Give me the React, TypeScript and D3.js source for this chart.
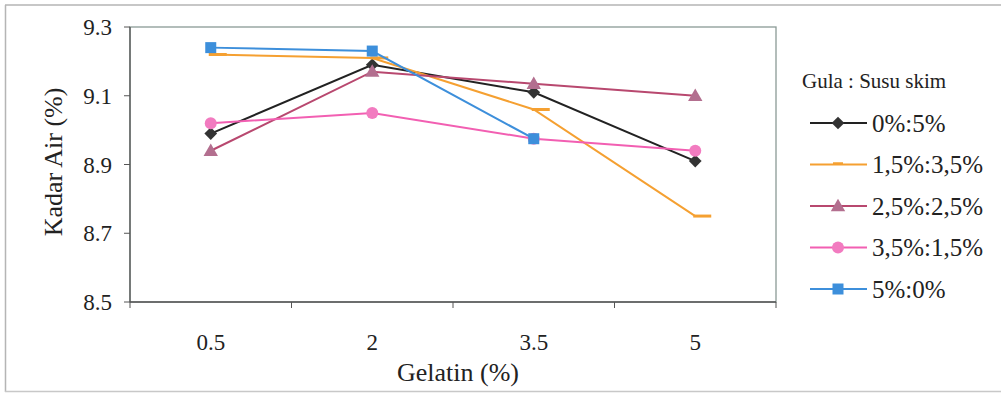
import React from "react";
import * as d3 from "d3";

// gelatin levels on the x axis
const gelatin = ["0.5", "2", "3.5", "5"];
const yTicks = [8.5, 8.7, 8.9, 9.1, 9.3];

// kadar air per ratio gula : susu skim
const s0_5 = [8.99, 9.19, 9.11, 8.91];
const s15_35 = [9.22, 9.21, 9.06, 8.75];
const s25_25 = [8.94, 9.17, 9.135, 9.1];
const s35_15 = [9.02, 9.05, 8.975, 8.94];
const s5_0 = [9.24, 9.23, 8.975];

const seriesNames = ["0%:5%", "1,5%:3,5%", "2,5%:2,5%", "3,5%:1,5%", "5%:0%"];
const seriesValues = [s0_5, s15_35, s25_25, s35_15, s5_0];
const lineColors = ["#222222", "#f5a031", "#b8486f", "#f25fb2", "#3d8fdb"];
const markColors = ["#333333", "#f5a031", "#b36f8f", "#f27bc0", "#3d8fdb"];
const markShapes = ["diamond", "dash", "triangle", "circle", "square"];

const font = "'Liberation Serif', 'Times New Roman', serif";

const Marker = ({ shape, x, y, color, legend }) => {
	if (shape === "diamond") {
		return <rect x={x - 4.5} y={y - 4.5} width={9} height={9} fill={color} transform={`rotate(45 ${x} ${y})`} />;
	}
	if (shape === "dash") {
		// the dash sits a bit to the right of the point in the original
		return legend ? (
			<line x1={x - 5} x2={x + 5} y1={y - 1} y2={y - 1} stroke={color} strokeWidth={2.5} />
		) : (
			<line x1={x - 2} x2={x + 16} y1={y} y2={y} stroke={color} strokeWidth={3} />
		);
	}
	if (shape === "triangle") {
		const p = d3.symbol(d3.symbolTriangle, 90)();
		return <path d={p} transform={`translate(${x},${y + 1})`} fill={color} />;
	}
	if (shape === "circle") {
		return <circle cx={x} cy={y} r={6} fill={color} />;
	}
	return <rect x={x - 5.5} y={y - 5.5} width={11} height={11} fill={color} />;
};

const App = () => {
	const left = 130;
	const right = 776;
	const top = 27;
	const bottom = 302;

	const xBand = d3.scaleBand().domain(gelatin).range([left, right]);
	const xPos = (i) => xBand(gelatin[i]) + xBand.bandwidth() / 2;
	const yScale = d3.scaleLinear().domain([8.5, 9.3]).range([bottom, top]);

	const line = d3
		.line()
		.x((d, i) => xPos(i))
		.y((d) => yScale(d));

	const bandEdges = gelatin.map((g) => xBand(g)).concat([right]);

	return (
		<svg width={1001} height={393} style={{ position: "absolute", left: 0, top: 0, background: "#fff" }}>
			{/* scanned outer frame */}
			<line x1={5} x2={1001} y1={5} y2={5} stroke="#b5b5b5" strokeWidth={1.5} />
			<line x1={5.5} x2={5.5} y1={5} y2={392} stroke="#b5b5b5" strokeWidth={1.5} />
			<line x1={5} x2={1001} y1={391.5} y2={391.5} stroke="#c8c8c8" strokeWidth={1.5} />

			{/* plot area */}
			<rect x={left} y={top} width={right - left} height={bottom - top} fill="none" stroke="#8a9a96" strokeWidth={1.3} />
			<line x1={left} x2={right} y1={bottom} y2={bottom} stroke="#555" strokeWidth={1.5} />
			<line x1={left} x2={left} y1={top} y2={bottom} stroke="#555" strokeWidth={1.3} />

			{yTicks.map((t) => (
				<g key={t}>
					<line x1={left - 6} x2={left} y1={yScale(t)} y2={yScale(t)} stroke="#555" />
					<text x={112} y={yScale(t)} dy="0.35em" textAnchor="end" fontFamily={font} fontSize={23} fill="#222">
						{t.toFixed(1)}
					</text>
				</g>
			))}
			{bandEdges.map((x, i) => (
				<line key={i} x1={x} x2={x} y1={bottom} y2={bottom + 6} stroke="#555" />
			))}
			{gelatin.map((g, i) => (
				<text key={g} x={xPos(i)} y={342} dy="0.35em" textAnchor="middle" fontFamily={font} fontSize={23} fill="#222">
					{g}
				</text>
			))}
			<text x={458} y={372} dy="0.35em" textAnchor="middle" fontFamily={font} fontSize={26} fill="#222">
				Gelatin (%)
			</text>
			<text
				transform={`translate(53,${162}) rotate(-90)`}
				dy="0.35em"
				textAnchor="middle"
				fontFamily={font}
				fontSize={26}
				fill="#222"
			>
				Kadar Air (%)
			</text>

			{/* series */}
			{seriesValues.map((vals, s) => (
				<g key={seriesNames[s]}>
					<path d={line(vals)} fill="none" stroke={lineColors[s]} strokeWidth={2} />
					{vals.map((v, i) => (
						<Marker key={i} shape={markShapes[s]} x={xPos(i)} y={yScale(v)} color={markColors[s]} />
					))}
				</g>
			))}

			{/* legend */}
			<text x={802} y={81} dy="0.35em" fontFamily={font} fontSize={21} fill="#222">
				Gula : Susu skim
			</text>
			{seriesNames.map((name, s) => {
				const ly = 123 + s * 41.5;
				return (
					<g key={name}>
						<line x1={810} x2={867} y1={ly} y2={ly} stroke={lineColors[s]} strokeWidth={2} />
						<Marker shape={markShapes[s]} x={838} y={ly} color={markColors[s]} legend />
						<text x={872} y={ly} dy="0.35em" fontFamily={font} fontSize={25} fill="#222">
							{name}
						</text>
					</g>
				);
			})}
		</svg>
	);
};

export default App;
